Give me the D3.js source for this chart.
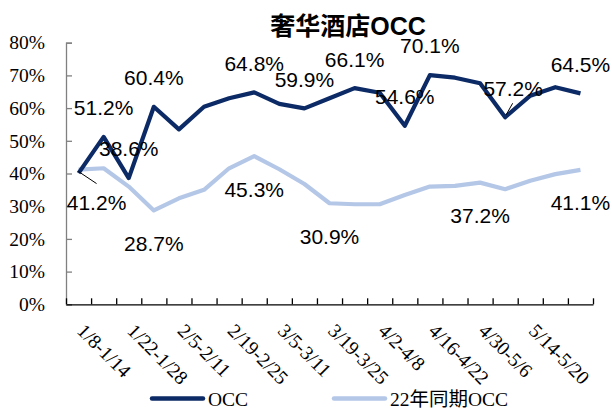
<!DOCTYPE html>
<html>
<head>
<meta charset="utf-8">
<script src="https://cdn.jsdelivr.net/npm/d3@7"></script>
<style>
  body { margin: 0; background: #fff; }
  svg { display: block; }
</style>
</head>
<body>
<div id="chart"></div>
<script>
// weekly windows, 2023
var weeks = ['1/8-1/14', '1/15-1/21', '1/22-1/28', '1/29-2/4', '2/5-2/11', '2/12-2/18',
  '2/19-2/25', '2/26-3/4', '3/5-3/11', '3/12-3/18', '3/19-3/25', '3/26-4/1', '4/2-4/8',
  '4/9-4/15', '4/16-4/22', '4/23-4/29', '4/30-5/6', '5/7-5/13', '5/14-5/20', '5/21-5/27',
  '5/28-6/3'];

// category labels actually printed under the axis
var xLabels = ['1/8-1/14', '1/22-1/28', '2/5-2/11', '2/19-2/25', '3/5-3/11', '3/19-3/25',
  '4/2-4/8', '4/16-4/22', '4/30-5/6', '5/14-5/20'];

// OCC (%)
var occ = [40.1, 51.2, 38.6, 60.4, 53.5, 60.4, 63.0, 64.8, 61.3, 59.9, 63.0, 66.1, 64.7,
  54.6, 70.1, 69.3, 67.6, 57.2, 63.8, 66.4, 64.5];
// same weeks of 2022 (%)
var occ22 = [41.2, 41.6, 36.0, 28.7, 32.4, 35.0, 41.6, 45.3, 41.3, 36.8, 30.9, 30.6, 30.6,
  33.4, 36.0, 36.2, 37.2, 35.2, 37.8, 39.8, 41.1];

var yTicks = [0, 10, 20, 30, 40, 50, 60, 70, 80];
var seriesNames = ['OCC', '22年同期OCC'];

// which points carry a value label
var occLabelIdx = [1, 2, 3, 7, 9, 11, 13, 14, 17, 20];
var occ22LabelIdx = [0, 3, 7, 10, 16, 20];

var width = 612, height = 412;
var plotLeft = 66, plotRight = 593, plotTop = 42.7, plotBottom = 304.3;
var darkBlue = '#0c2a65', lightBlue = '#b4c7e7';
var serif = '"Liberation Serif", "Times New Roman", serif';
var sans = '"Liberation Sans", Arial, "Noto Sans CJK SC", sans-serif';

var svg = d3.select('#chart')
  .append('svg')
  .attr('width', width)
  .attr('height', height);

var x = d3.scaleBand()
  .domain(weeks)
  .range([plotLeft, plotRight])
  .padding(0);

var xEdge = d3.scaleLinear()
  .domain([0, weeks.length])
  .range([plotLeft, plotRight]);

var y = d3.scaleLinear()
  .domain([0, 80])
  .range([plotBottom, plotTop]);

function cx(i) { return x(weeks[i]) + x.bandwidth() / 2; }

// title
svg.append('text')
  .attr('x', 348)
  .attr('y', 35)
  .attr('text-anchor', 'middle')
  .style('font-family', sans)
  .style('font-weight', 'bold')
  .style('font-size', '25px')
  .attr('fill', '#000')
  .text('奢华酒店OCC');

// y axis, ticks pointing inward
var yAxis = svg.append('g')
  .attr('transform', 'translate(' + plotLeft + ',0)')
  .call(d3.axisLeft(y)
    .tickValues(yTicks)
    .tickSize(-6)
    .tickPadding(21)
    .tickFormat(function(d) { return d + '%'; }));

yAxis.select('.domain').attr('stroke', '#808080').attr('stroke-width', 1.3);
yAxis.selectAll('.tick line').attr('stroke', '#808080').attr('stroke-width', 1.3);
yAxis.selectAll('.tick text')
  .style('font-family', serif)
  .style('font-size', '19.5px')
  .attr('fill', '#000');

// x axis, ticks on category edges
var xAxis = svg.append('g')
  .attr('transform', 'translate(0,' + plotBottom + ')')
  .call(d3.axisBottom(xEdge)
    .tickValues(d3.range(weeks.length + 1))
    .tickSize(-6)
    .tickSizeOuter(0)
    .tickFormat(''));

xAxis.select('.domain').attr('stroke', '#000').attr('stroke-width', 1.3);
xAxis.selectAll('.tick line').attr('stroke', '#000').attr('stroke-width', 1.3);

// rotated category labels
svg.append('g')
  .selectAll('text')
  .data(xLabels)
  .enter().append('text')
  .attr('transform', function(d) {
    return 'translate(' + (x(d) + x.bandwidth() / 2 - 2.5) + ',332) rotate(45)';
  })
  .attr('text-anchor', 'start')
  .style('font-family', serif)
  .style('font-size', '19.5px')
  .attr('fill', '#000')
  .text(function(d) { return d; });

// lines
var line = d3.line()
  .x(function(d, i) { return cx(i); })
  .y(function(d) { return y(d); });

svg.append('path')
  .datum(occ22)
  .attr('d', line)
  .attr('fill', 'none')
  .attr('stroke', lightBlue)
  .attr('stroke-width', 4.2)
  .attr('stroke-linejoin', 'round');

svg.append('path')
  .datum(occ)
  .attr('d', line)
  .attr('fill', 'none')
  .attr('stroke', darkBlue)
  .attr('stroke-width', 4.2)
  .attr('stroke-linejoin', 'round');

// value labels
function labelDx(series, i) {
  if (series === 'occ' && i === 17) { return 8; }
  if (series === 'occ22' && i === 0) { return 18; }
  return 0;
}

svg.append('g')
  .selectAll('text')
  .data(occLabelIdx)
  .enter().append('text')
  .attr('x', function(i) { return cx(i) + labelDx('occ', i); })
  .attr('y', function(i) { return y(occ[i]) - 29; })
  .attr('dy', '0.35em')
  .attr('text-anchor', 'middle')
  .style('font-family', sans)
  .style('font-size', '21px')
  .attr('fill', '#000')
  .text(function(i) { return occ[i].toFixed(1) + '%'; });

svg.append('g')
  .selectAll('text')
  .data(occ22LabelIdx)
  .enter().append('text')
  .attr('x', function(i) { return cx(i) + labelDx('occ22', i); })
  .attr('y', function(i) { return y(occ22[i]) + 33; })
  .attr('dy', '0.35em')
  .attr('text-anchor', 'middle')
  .style('font-family', sans)
  .style('font-size', '21px')
  .attr('fill', '#000')
  .text(function(i) { return occ22[i].toFixed(1) + '%'; });

// leader lines for the two shifted labels
svg.append('line')
  .attr('x1', cx(0)).attr('y1', y(occ22[0]) + 2)
  .attr('x2', cx(0) + 18).attr('y2', y(occ22[0]) + 14)
  .attr('stroke', '#000').attr('stroke-width', 1);

svg.append('line')
  .attr('x1', cx(17) + 7.5).attr('y1', y(occ[17]) - 14)
  .attr('x2', cx(17) + 1).attr('y2', y(occ[17]) - 2.5)
  .attr('stroke', '#000').attr('stroke-width', 1);

// legend
var legend = svg.append('g');
var legendItems = [
  { name: seriesNames[0], color: darkBlue, x0: 150 },
  { name: seriesNames[1], color: lightBlue, x0: 332 }
];

legendItems.forEach(function(d) {
  legend.append('line')
    .attr('x1', d.x0 + 2).attr('x2', d.x0 + 53)
    .attr('y1', 398.5).attr('y2', 398.5)
    .attr('stroke', d.color)
    .attr('stroke-width', 4.5)
    .attr('stroke-linecap', 'round');
  legend.append('text')
    .attr('x', d.x0 + 58)
    .attr('y', 405.5)
    .style('font-family', serif + ', "Noto Sans CJK SC"')
    .style('font-size', '19.5px')
    .attr('fill', '#000')
    .text(d.name);
});
</script>
</body>
</html>
